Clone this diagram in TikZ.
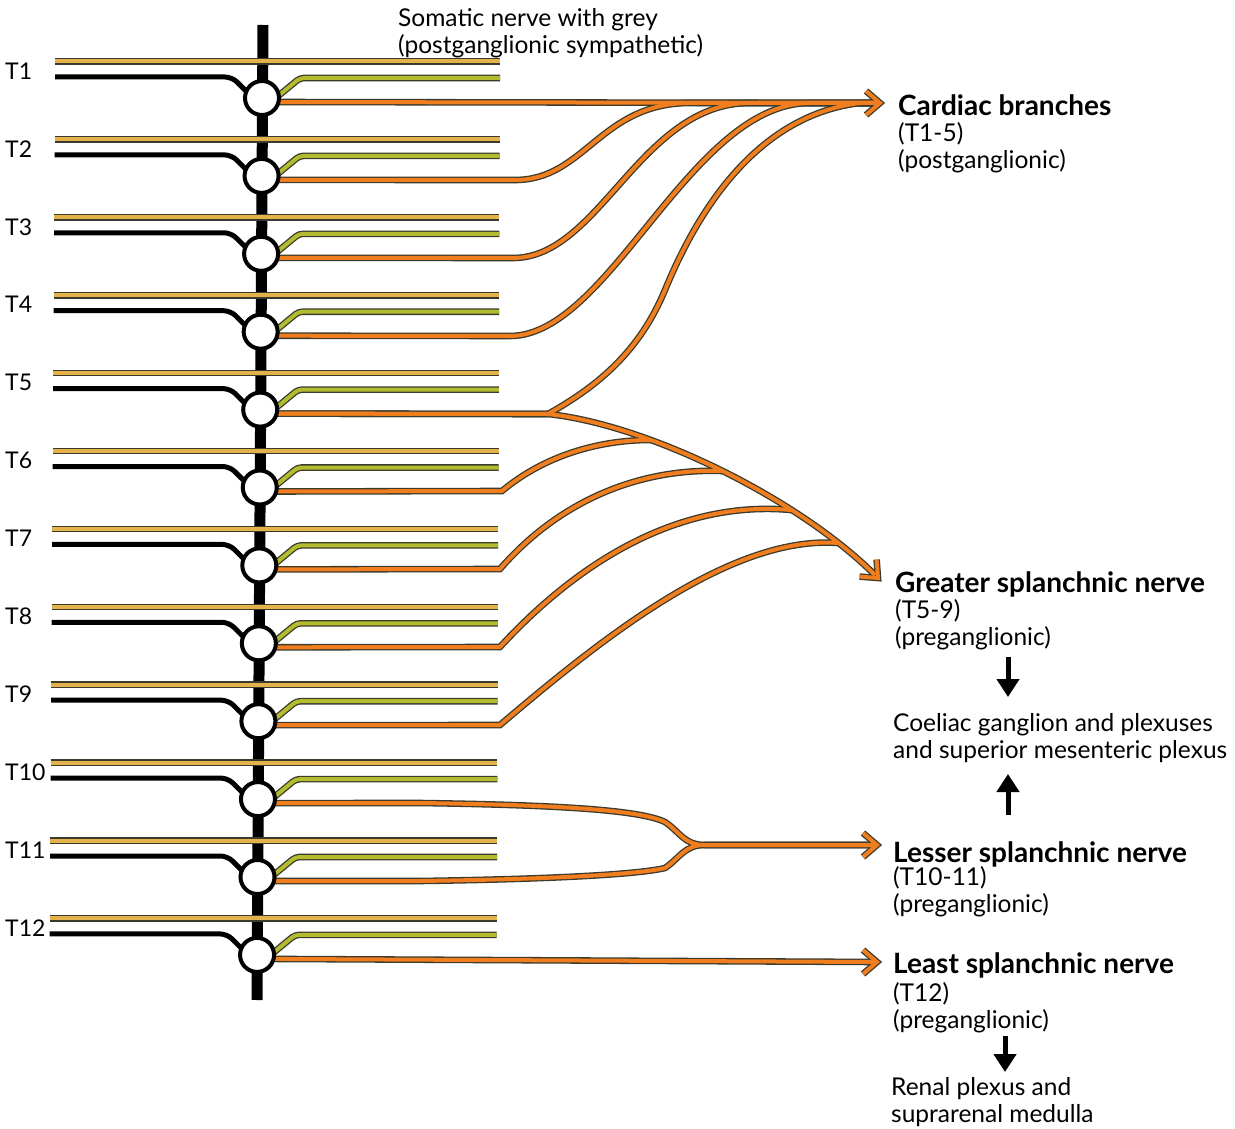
\documentclass[tikz,border=0pt]{standalone}
\usepackage{fontspec}
\setmainfont{Lato}
\usetikzlibrary{arrows.meta,calc}
\definecolor{nedge}{HTML}{3B3A2C}
\definecolor{nyel}{HTML}{E3B24A}
\definecolor{ngrn}{HTML}{B3BC2E}
\definecolor{norg}{HTML}{F07D1E}
\pgfdeclarelayer{nerves}
\pgfsetlayers{nerves,main}
\newcommand\orangenet[1]{%
  % cardiac branches
  \draw[#1] (g1.center) ++(12,4) -- (878,103);
  \draw[#1] (g2.center) ++(12,4) -- (515,180) .. controls (585,180) and (600,103) .. (690,103) -- (878,103);
  \draw[#1] (g3.center) ++(12,4) -- (513,258) .. controls (600,258) and (640,103) .. (750,103) -- (878,103);
  \draw[#1] (g4.center) ++(12,4) -- (510,336) .. controls (610,336) and (690,103) .. (810,103) -- (878,103);
  \draw[#1] (g5.center) ++(12,4) -- (548,414) .. controls (600,385) and (640,350) .. (665,290) .. controls (700,205) and (760,115) .. (860,103) -- (878,103);
  % greater splanchnic
  \draw[#1] (g5.center) ++(12,4) -- (548,414) .. controls (650,425) and (800,500) .. (875,575);
  \draw[#1] (g6.center) ++(12,4) -- (502,491) .. controls (545,455) and (600,440) .. (650,440);
  \draw[#1] (g7.center) ++(12,4) -- (500,569) .. controls (560,500) and (640,468) .. (722,471);
  \draw[#1] (g8.center) ++(12,4) -- (500,647) .. controls (580,560) and (680,500) .. (791,510);
  \draw[#1] (g9.center) ++(12,4) -- (500,725) .. controls (600,640) and (730,535) .. (838,543);
  % lesser splanchnic
  \draw[#1] (g10.center) ++(12,4) -- (420,803) .. controls (560,805) and (640,810) .. (665,822) .. controls (680,832) and (684,845) .. (705,845) -- (875,845);
  \draw[#1] (g11.center) ++(12,4) -- (420,881) .. controls (560,879) and (640,874) .. (665,868) .. controls (680,858) and (684,845) .. (705,845) -- (875,845);
  % least splanchnic
  \draw[#1] (g12.center) ++(12,4) -- (875,962);
  % open arrowheads
  \draw[#1] (866,91) -- (tipC) -- (866,115);
  \draw[#1] (876.6,559.6) -- (tipG) -- (859.6,576.6);
  \draw[#1] (863,833) -- (tipL) -- (863,857);
  \draw[#1] (863,950) -- (tipS) -- (863,974);
}
\begin{document}
\begin{tikzpicture}[x=1pt,y=-1pt,
  gang/.style={circle, draw=black, line width=4pt, fill=white, minimum size=34pt, inner sep=0pt},
  tlab/.style={font=\fontsize{23pt}{26pt}\selectfont, anchor=west, inner sep=0pt},
  rtxt/.style={font=\fontsize{24.5pt}{27pt}\selectfont, anchor=base west, inner sep=0pt, align=left},
  btxt/.style={font=\bfseries\fontsize{28pt}{30pt}\selectfont, anchor=base west, inner sep=0pt},
  yelline/.style={draw=nyel, line width=4pt, preaction={draw=nedge, line width=6.6pt}},
  grnline/.style={draw=ngrn, line width=4pt, rounded corners=4pt, preaction={draw=nedge, line width=6.6pt}},
  blkline/.style={draw=black, line width=5pt, rounded corners=7pt},
  orgO/.style={draw=nedge, line width=6.6pt, line join=miter},
  orgC/.style={draw=norg, line width=4pt, line join=miter},
  barrow/.style={draw=black, line width=5pt, -{Triangle[width=22pt,length=18pt]}}]
\useasboundingbox (0,0) rectangle (1235,1129);
% ganglia and level labels
\foreach \i in {1,...,12}{
  \pgfmathsetmacro\cx{262-(\i-1)*0.45}
  \pgfmathsetmacro\cy{98+(\i-1)*77.9}
  \node[gang] (g\i) at (\cx,\cy) {};
  \node[tlab] (t\i) at (5,\cy-27) {T\i};
}
\coordinate (tipC) at (880,103);
\coordinate (tipG) at (878,578);
\coordinate (tipL) at (877,845);
\coordinate (tipS) at (877,962);
% texts (multi-line nodes: base = last line)
\node[rtxt] (som) at (398,54) {Somatic nerve with grey\\(postganglionic sympathetic)};
\node[btxt] (card) at (898,116) {Cardiac branches};
\node[rtxt] (cardsub) at (898,168) {(T1-5)\\(postganglionic)};
\node[btxt] (grt) at (895,592) {Greater splanchnic nerve};
\node[rtxt] (grtsub) at (895,645) {(T5-9)\\(preganglionic)};
\node[rtxt] (coel) at (893,758) {Coeliac ganglion and plexuses\\and superior mesenteric plexus};
\node[btxt] (les) at (893,862) {Lesser splanchnic nerve};
\node[rtxt] (lessub) at (893,912) {(T10-11)\\(preganglionic)};
\node[btxt] (lst) at (893,973) {Least splanchnic nerve};
\node[rtxt] (lstsub) at (893,1028) {(T12)\\(preganglionic)};
\node[rtxt] (ren) at (891,1122) {Renal plexus and\\suprarenal medulla};
% black arrows
\coordinate (a1s) at (1008,657); \coordinate (a1e) at (1008,697);
\coordinate (a2s) at (1008,815); \coordinate (a2e) at (1008,774);
\coordinate (a3s) at (1005,1036); \coordinate (a3e) at (1005,1072);
\draw[barrow] (a1s) -- (a1e);
\draw[barrow] (a2s) -- (a2e);
\draw[barrow] (a3s) -- (a3e);
\begin{pgfonlayer}{nerves}
  \fill[white] (0,0) rectangle (1235,1129);
  \draw[line width=11pt] (263,25) -- (257,1000);
  \foreach \i in {1,...,12}{
    \pgfmathsetmacro\cx{262-(\i-1)*0.45}
    \pgfmathsetmacro\cy{98+(\i-1)*77.9}
    \pgfmathsetmacro\xl{55-(\i-1)*0.5}
    \pgfmathsetmacro\xr{500-(\i-1)*0.3}
    \draw[yelline] (\xl,\cy-36.5) -- (\xr,\cy-36.5);
    \draw[blkline] (\xl,\cy-21) -- (\cx-30,\cy-21) -- (\cx-13,\cy-4);
    \draw[grnline] (\cx+14.8,\cy-0.9) -- (\cx+38,\cy-20) -- (\xr,\cy-20);
  }
  \orangenet{orgO}
  \orangenet{orgC}
\end{pgfonlayer}
\end{tikzpicture}
\end{document}
